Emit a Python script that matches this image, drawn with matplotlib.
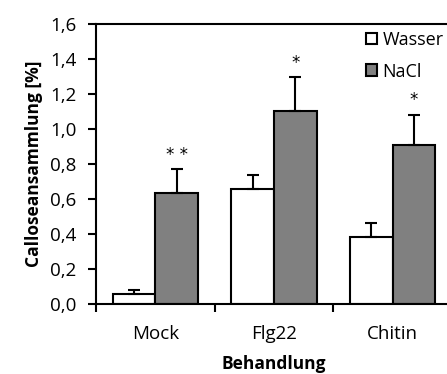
import numpy as np
import matplotlib
matplotlib.use('Agg')
import matplotlib.pyplot as plt

# Callose-Werte je Behandlung
behandlungen = ['Mock', 'Flg22', 'Chitin']
wasser = [0.055, 0.66, 0.385]
wasser_err = [0.025, 0.08, 0.078]
nacl = [0.635, 1.10, 0.91]
nacl_err = [0.135, 0.195, 0.17]
signifikanz = ['* *', '*', '*']

plt.rcParams['font.family'] = ['Open Sans', 'DejaVu Sans']
plt.rcParams['font.size'] = 13.5

fig = plt.figure(figsize=(4.47, 3.74), dpi=100)
ax = fig.add_axes([96 / 447, 70 / 374, 356 / 447, 280 / 374])

x = np.arange(1, len(behandlungen) + 1)
breite = 0.36

ax.bar(x - breite / 2, wasser, breite, color='white', edgecolor='black',
       linewidth=1.5, label='Wasser', zorder=2)
ax.bar(x + breite / 2, nacl, breite, color='#808080', edgecolor='black',
       linewidth=1.5, label='NaCl', zorder=2)

# Fehlerbalken nur nach oben
ax.errorbar(x - breite / 2, wasser, yerr=[np.zeros(3), wasser_err], fmt='none',
            ecolor='black', elinewidth=1.5, capsize=4, capthick=1.5, zorder=3)
ax.errorbar(x + breite / 2, nacl, yerr=[np.zeros(3), nacl_err], fmt='none',
            ecolor='black', elinewidth=1.5, capsize=4, capthick=1.5, zorder=3)

# Signifikanzsterne über den NaCl-Balken
for xi, v, e, s in zip(x, nacl, nacl_err, signifikanz):
    ax.annotate(s, (xi + breite / 2, v + e), xytext=(0, 4), textcoords='offset points',
                ha='center', va='bottom', fontsize=12, family='DejaVu Sans')

ax.set_xlim(0.5, 3.5)
ax.set_ylim(0, 1.6)
ax.set_yticks(np.arange(0, 1.61, 0.2))
ax.set_yticklabels([f'{v:.1f}'.replace('.', ',') for v in np.arange(0, 1.61, 0.2)])

ax.set_xticks(x)
ax.set_xticklabels(behandlungen)
ax.tick_params(axis='x', which='major', length=0, pad=15)
ax.set_xticks([0.5, 1.5, 2.5, 3.5], minor=True)
ax.tick_params(axis='x', which='minor', length=6, width=1.5, direction='out')
ax.tick_params(axis='y', length=6, width=1.5, direction='out', pad=8)

for s in ax.spines.values():
    s.set_linewidth(1.5)

ax.set_ylabel('Calloseansammlung [%]', fontweight='bold', fontsize=12.5, labelpad=5)
ax.set_xlabel('Behandlung', fontweight='bold', fontsize=12.5, labelpad=9)

ax.legend(loc='upper left', bbox_to_anchor=(357 / 447, 352 / 374),
          bbox_transform=fig.transFigure, frameon=False, handlelength=0.6,
          handleheight=0.6, handletextpad=0.3, labelspacing=0.75, borderpad=0,
          fontsize=13)

fig.savefig('out.png', dpi=100)
